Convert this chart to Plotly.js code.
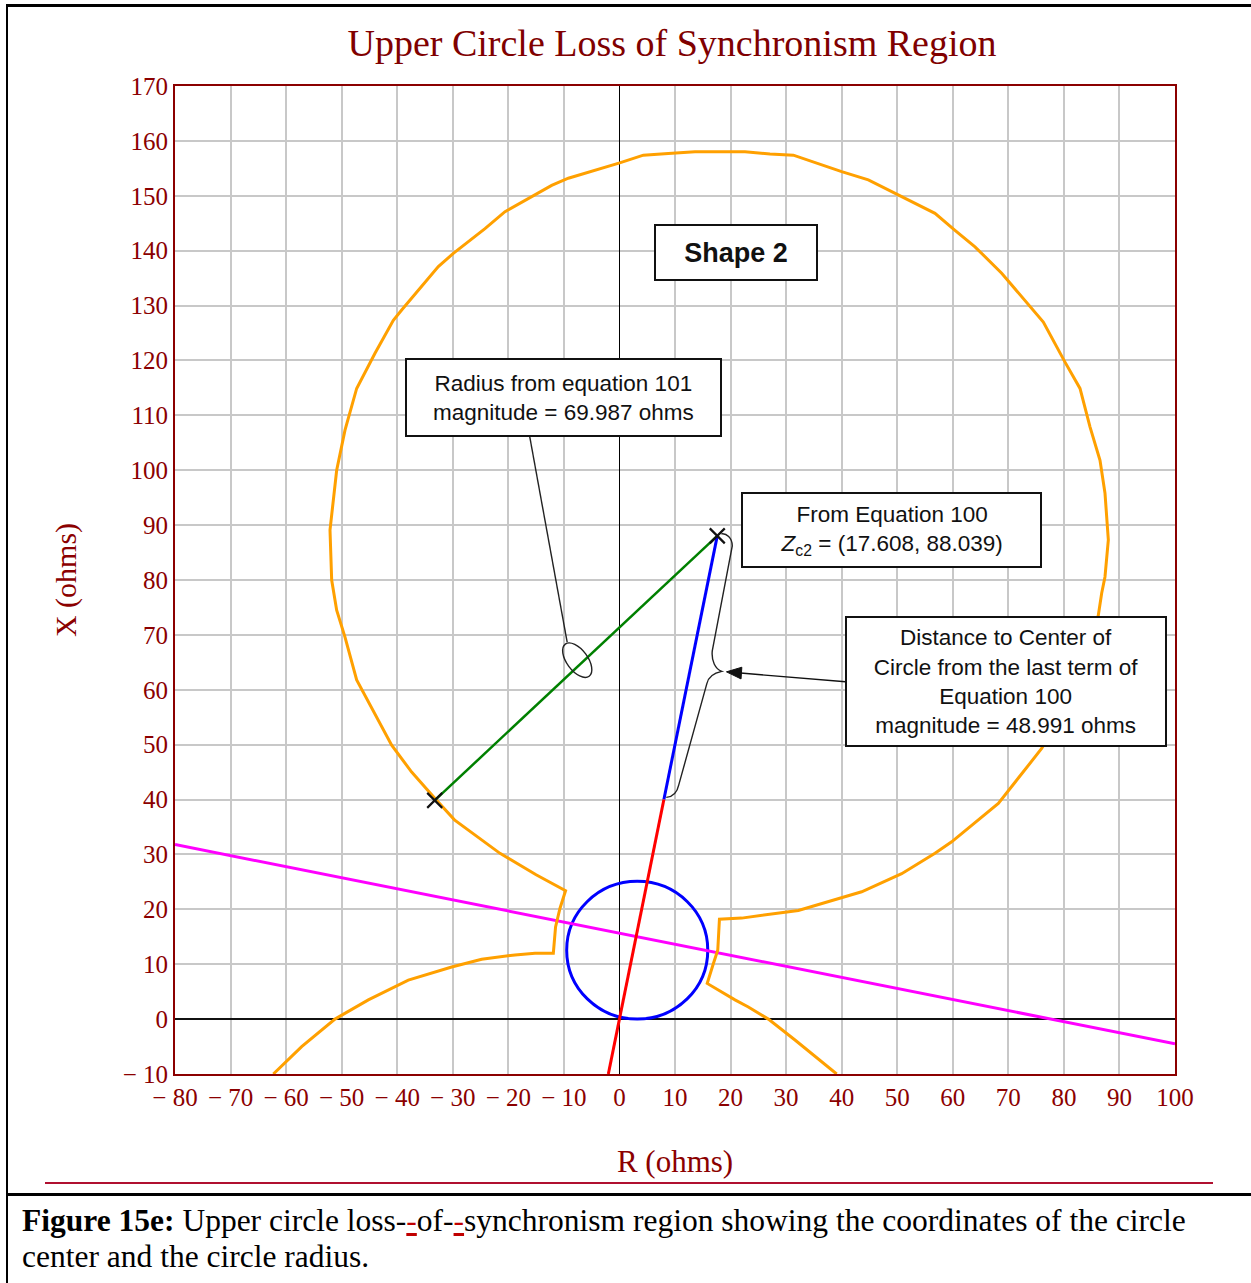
<!DOCTYPE html>
<html><head><meta charset="utf-8">
<script src="https://cdn.plot.ly/plotly-3.0.1.min.js"></script>
<style>
body{margin:0;background:#fff;}
#wrap{position:relative;width:1251px;height:1283px;overflow:hidden;background:#fff;}
#plot{position:absolute;left:0;top:0;width:1251px;height:1283px;}
.ln{position:absolute;background:#000;}
#cap{position:absolute;left:22px;top:1203px;font-family:'Liberation Serif','Times New Roman',serif;font-size:31.5px;line-height:36px;color:#000;white-space:nowrap;}
.ins{color:#c00000;text-decoration:underline;}
</style></head>
<body>
<div id="wrap">
<div id="plot"></div>
<div class="ln" style="left:6px;top:4px;width:1245px;height:3px"></div>
<div class="ln" style="left:6px;top:4px;width:2px;height:1279px"></div>
<div class="ln" style="left:45px;top:1182px;width:1168px;height:2px;background:#b01030"></div>
<div class="ln" style="left:6px;top:1193px;width:1245px;height:3px"></div>
<div id="cap"><b>Figure 15e:</b> Upper circle loss-<span class="ins">-</span>of-<span class="ins">-</span>synchronism region showing the coordinates of the circle<br>center and the circle radius.</div>
</div>
<script>
// ---- tick labels ----
const xTickVals = [-80,-70,-60,-50,-40,-30,-20,-10,0,10,20,30,40,50,60,70,80,90,100];
const xTickText = ['\u2212 80','\u2212 70','\u2212 60','\u2212 50','\u2212 40','\u2212 30','\u2212 20','\u2212 10','0','10','20','30','40','50','60','70','80','90','100'];
const yTickVals = [-10,0,10,20,30,40,50,60,70,80,90,100,110,120,130,140,150,160,170];
const yTickText = ['\u2212 10','0','10','20','30','40','50','60','70','80','90','100','110','120','130','140','150','160','170'];

// ---- loss-of-synchronism region outline (orange), R and X in ohms ----
const lossR = [-62.3,-57.2,-51.2,-45.2,-38.0,-30.2,-24.8,-18.8,-15.2,-11.9,-11.5,-10.7,-9.7,
  -15.0,-21.5,-29.7,-33.2,-37.4,-41.0,-43.7,-47.3,-49.4,-50.9,-51.8,-52.1,-50.9,-49.4,-47.3,-44.0,-40.7,-39.2,-32.6,-29.9,-24.2,-20.6,-12.2,-9.2,0.05,4.3,8.8,13.6,
  22.6,27.1,31.3,40.0,44.8,50.2,56.8,60.4,64.0,68.8,76.3,80.2,82.9,84.7,86.5,87.4,88.0,87.4,86.8,86.2,
  84.4,81.7,78.2,76.0,70.0,68.2,59.8,56.8,50.8,43.6,32.2,22.0,18.0,17.7,16.9,15.8,20.8,23.2,26.8,31.6,39.1];
const lossX = [-10,-5.0,0,3.5,7.1,9.5,10.9,11.7,12.0,12.0,16.8,20.2,23.4,
  26.3,30.2,36.3,40.2,45.0,49.9,55.1,61.8,69.6,74.5,80.0,89.1,100.0,107.3,114.9,121.3,127.3,129.2,137.1,139.5,144.0,147.1,151.9,153.2,156.0,157.4,157.7,158.0,
  158.0,157.6,157.4,154.4,152.9,150.1,146.8,143.7,140.7,135.9,127.0,119.7,114.9,107.9,101.8,95.8,87.3,80.6,77.6,73.6,
  67.0,60.0,53.0,49.3,41.7,39.3,32.3,30.2,26.5,23.2,19.8,18.4,18.2,12.6,10.1,6.5,3.5,2.2,0,-3.8,-10];

// ---- straight lines ----
const blinderR = [-80, 100];          // magenta
const blinderX = [31.8, -4.5];
const originLineR = [-2.0, 8.0];      // red
const originLineX = [-10, 40.0];
const distanceR = [8.0, 17.608];      // blue: 48.991 ohms to centre
const distanceX = [40.0, 88.039];
const radiusR = [-33.25, 17.608];     // green: radius 69.987 ohms
const radiusX = [39.85, 88.039];
const markR = [-33.25, 17.608];
const markX = [39.85, 88.039];

// ---- small blue circle (bounding box R, X) ----
const smallCircleR = [-9.5, 15.9];
const smallCircleX = [0, 25.1];

const red = '#8B0000';
const annFont = {family:'Liberation Sans, Arial, sans-serif', size:22.5, color:'#111'};

function ellipsePath(a, b, angDeg){
  const t = angDeg*Math.PI/180, k = 0.5523;
  const ux = a*Math.cos(t), uy = a*Math.sin(t), vx = -b*Math.sin(t), vy = b*Math.cos(t);
  const p = (x,y)=>x.toFixed(2)+','+y.toFixed(2);
  return 'M'+p(ux,uy)+
    ' C'+p(ux+k*vx,uy+k*vy)+' '+p(k*ux+vx,k*uy+vy)+' '+p(vx,vy)+
    ' C'+p(vx-k*ux,vy-k*uy)+' '+p(-ux+k*vx,-uy+k*vy)+' '+p(-ux,-uy)+
    ' C'+p(-ux-k*vx,-uy-k*vy)+' '+p(-k*ux-vx,-k*uy-vy)+' '+p(-vx,-vy)+
    ' C'+p(-vx+k*ux,-vy+k*uy)+' '+p(ux-k*vx,uy-k*vy)+' '+p(ux,uy)+' Z';
}

const traces = [
  {x:blinderR, y:blinderX, mode:'lines', line:{color:'#FF00FF', width:3}, hoverinfo:'skip'},
  {x:lossR, y:lossX, mode:'lines', line:{color:'#FFA000', width:3}, hoverinfo:'skip'},
  {x:radiusR, y:radiusX, mode:'lines', line:{color:'#008000', width:2.5}, hoverinfo:'skip'},
  {x:distanceR, y:distanceX, mode:'lines', line:{color:'#0000FF', width:3}, hoverinfo:'skip'},
  {x:originLineR, y:originLineX, mode:'lines', line:{color:'#FF0000', width:3}, hoverinfo:'skip'},
  {x:markR, y:markX, mode:'markers', marker:{symbol:'x-thin-open', size:15, color:'#111', line:{color:'#111', width:2.2}}, hoverinfo:'skip'}
];

function box(text, x, y, w, h, font){
  return {x:x, y:y, xref:'x', yref:'y', text:text, showarrow:false, xanchor:'center', yanchor:'middle',
    align:'center', valign:'middle', width:w, height:h, bgcolor:'#fff', bordercolor:'#111', borderwidth:2, borderpad:1, font:font||annFont};
}

const layout = {
  width:1251, height:1283,
  margin:{l:175, r:76, t:86, b:209, pad:0},
  paper_bgcolor:'rgba(0,0,0,0)', plot_bgcolor:'#fff',
  showlegend:false,
  title:{text:'Upper Circle Loss of Synchronism Region', font:{family:'Liberation Serif, Times New Roman, serif', size:38, color:'#800000'},
    x:672/1251, xref:'container', xanchor:'center', y:1-43/1283, yref:'container', yanchor:'middle'},
  xaxis:{range:[-80,100], tickmode:'array', tickvals:xTickVals, ticktext:xTickText,
    tickfont:{family:'Liberation Serif, Times New Roman, serif', size:25, color:red}, ticks:'',
    showgrid:true, gridcolor:'#c8c8c8', gridwidth:2, zeroline:true, zerolinecolor:'#000', zerolinewidth:1.6,
    showline:true, linecolor:red, linewidth:2, mirror:true, fixedrange:true,
    title:{text:'R (ohms)', font:{family:'Liberation Serif, Times New Roman, serif', size:31, color:red}, standoff:40}},
  yaxis:{range:[-10,170], tickmode:'array', tickvals:yTickVals, ticktext:yTickText,
    tickfont:{family:'Liberation Serif, Times New Roman, serif', size:25, color:red}, ticks:'',
    showgrid:true, gridcolor:'#c8c8c8', gridwidth:2, zeroline:true, zerolinecolor:'#111', zerolinewidth:2.5,
    showline:true, linecolor:red, linewidth:2, mirror:true, fixedrange:true,
    title:{text:'X (ohms)', font:{family:'Liberation Serif, Times New Roman, serif', size:30, color:red}, standoff:37}},
  shapes:[
    {type:'circle', xref:'x', yref:'y', x0:smallCircleR[0], x1:smallCircleR[1], y0:smallCircleX[0], y1:smallCircleX[1],
      line:{color:'#0000FF', width:3}, layer:'between'},
    {type:'line', xref:'x', yref:'y', x0:-16.15, y0:106.1, x1:-9.41, y1:68.7, line:{color:'#222', width:1.4}, layer:'above'},
    {type:'path', xref:'x', yref:'y', xsizemode:'pixel', ysizemode:'pixel', xanchor:-7.6, yanchor:65.4,
      path:ellipsePath(20, 10.5, -53.4), line:{color:'#222', width:1.4}, layer:'above'},
    {type:'path', xref:'x', yref:'y', xsizemode:'pixel', ysizemode:'pixel', xanchor:17.608, yanchor:88.039,
      path:'M4,2 C9,3 15,-2 15,-10 L-5,-115 C-6,-125 -2,-133 4.5,-135.5 C-3,-137 -9,-141 -10.5,-148 L-38.5,-249 C-40,-256 -44,-261 -51,-261.5',
      line:{color:'#222', width:1.4}, layer:'above'},
    // pointer arrow from the "Distance" box to the brace
    {type:'line', xref:'x', yref:'y', x0:40.68, y0:61.45, x1:21.8, y1:63.05, line:{color:'#111', width:1.4}, layer:'above'},
    {type:'path', xref:'x', yref:'y', xsizemode:'pixel', ysizemode:'pixel', xanchor:19.26, yanchor:63.27,
      path:'M0,0 L15.4,4.6 L14.6,-7.1 Z', fillcolor:'#111', line:{color:'#111', width:1}, layer:'above'}
  ],
  annotations:[
    box('<b>Shape 2</b>', 21.0, 139.73, 158, 51.4, {family:'Liberation Sans, Arial, sans-serif', size:27, color:'#111'}),
    box('Radius from equation 101<br>magnitude = 69.987 ohms', -10.03, 113.3, 310.7, 73.4),
    box('From Equation 100<br><i>Z</i><sub>c2</sub> = (17.608, 88.039)', 48.96, 89.1, 295.4, 70.3),
    box('Distance to Center of<br>Circle from the last term of<br>Equation 100<br>magnitude = 48.991 ohms', 69.66, 61.45, 316, 125.3)
  ]
};

Plotly.newPlot('plot', traces, layout, {displayModeBar:false, staticPlot:true});
</script>
</body></html>
